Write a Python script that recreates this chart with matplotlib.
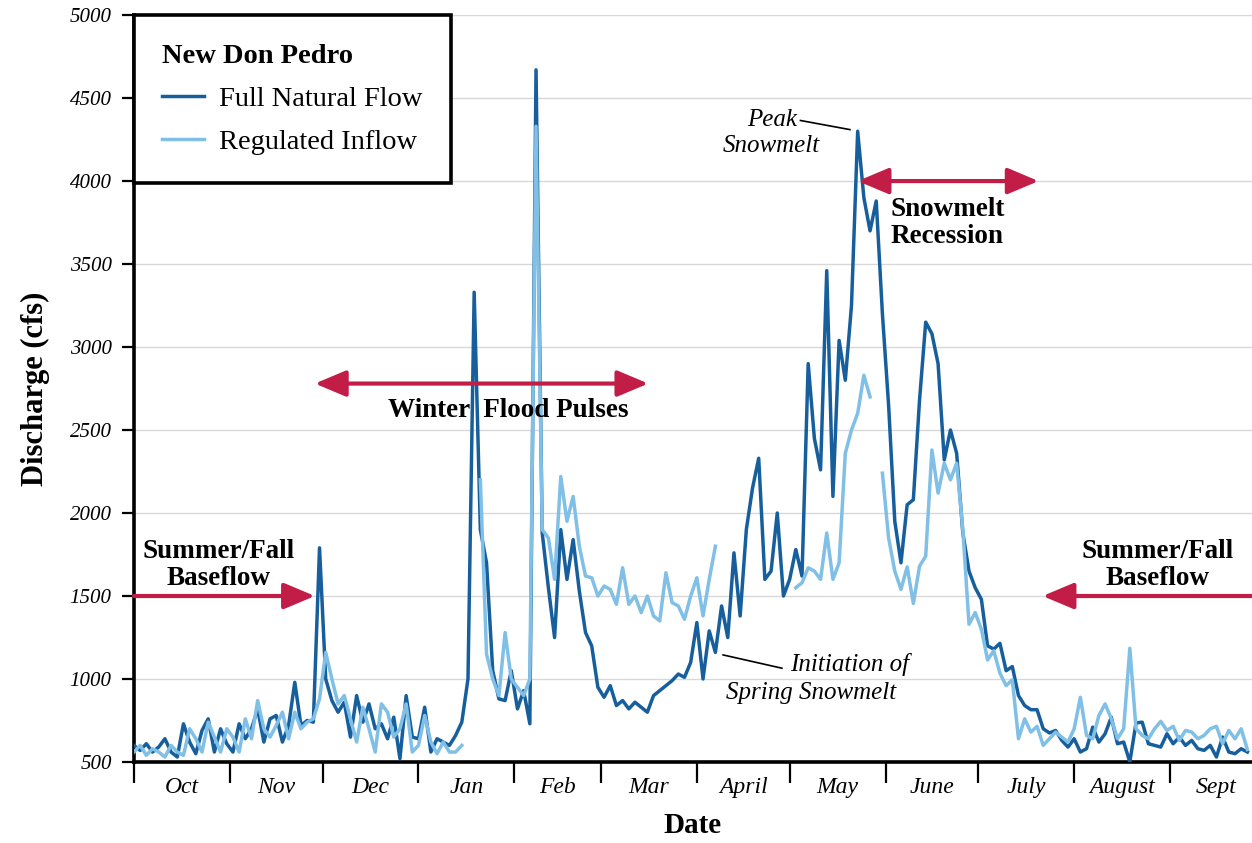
import matplotlib
matplotlib.use('Agg')
import matplotlib.pyplot as plt
import matplotlib.dates as mdates
import numpy as np
import pandas as pd

plt.rcParams['font.family'] = 'serif'
plt.rcParams['font.serif'] = ['Liberation Serif', 'DejaVu Serif']

# water year 2000-2001, one reading every second day (cfs)
start_date = '2000-10-01'
n_days = 181

full_natural_flow = [
    # Oct
    600, 570, 610, 560, 590, 640, 560, 530, 730, 620, 550, 690, 760, 560, 700, 610,
    # Nov
    560, 730, 640, 700, 820, 620, 760, 780, 620, 720, 980, 720, 750, 740, 1790,
    # Dec
    1000, 870, 800, 860, 650, 900, 740, 850, 700, 730, 640, 770, 520, 900, 650,
    # Jan
    640, 830, 560, 640, 620, 600, 660, 740, 1000, 3330, 1900, 1700, 1050, 880, 870, 1050,
    # Feb
    820, 930, 730, 4670, 1880, 1550, 1250, 1900, 1600, 1840, 1530, 1280, 1200, 950,
    # Mar
    890, 960, 840, 870, 820, 860, 830, 800, 900, 930, 960, 990, 1030, 1010, 1100,
    # Apr
    1340, 1000, 1290, 1160, 1440, 1250, 1760, 1380, 1900, 2150, 2330, 1600, 1650, 2000, 1500,
    # May
    1600, 1780, 1620, 2900, 2450, 2260, 3460, 2100, 3040, 2800, 3250, 4300, 3900, 3700, 3880, 3200,
    # Jun
    2650, 1950, 1700, 2050, 2080, 2680, 3150, 3080, 2900, 2320, 2500, 2360, 1880, 1650, 1550,
    # Jul
    1480, 1200, 1180, 1215, 1050, 1075, 900, 840, 815, 815, 700, 675, 690, 630, 590,
    # Aug
    640, 560, 580, 710, 620, 670, 770, 610, 620, 500, 735, 740, 610, 600, 590, 670,
    # Sep
    610, 650, 600, 630, 580, 570, 600, 530, 650, 560, 550, 580, 560,
]

nan = np.nan
regulated_inflow = [
    # Oct
    560, 600, 540, 580, 560, 530, 600, 560, 540, 700, 640, 560, 740, 650, 560, 700,
    # Nov
    650, 560, 760, 640, 870, 700, 650, 720, 800, 640, 800, 700, 740, 760, 880,
    # Dec
    1160, 1000, 850, 900, 760, 620, 830, 700, 560, 850, 800, 650, 700, 850, 560,
    # Jan
    600, 780, 620, 550, 620, 560, 560, 600, nan, nan, 2200, 1150, 1000, 900, 1280, 1000,
    # Feb
    950, 900, 1000, 4330, 1900, 1850, 1600, 2220, 1950, 2100, 1800, 1620, 1610, 1500,
    # Mar
    1560, 1540, 1450, 1670, 1450, 1500, 1400, 1500, 1380, 1350, 1640, 1460, 1440, 1360, 1500,
    # Apr
    1610, 1380, 1600, 1800, nan, nan, nan, nan, nan, nan, nan, nan, nan, nan, nan,
    # May
    nan, 1550, 1580, 1670, 1650, 1600, 1880, 1600, 1700, 2360, 2500, 2600, 2830, 2700, nan, 2240,
    # Jun
    1850, 1650, 1540, 1675, 1455, 1680, 1740, 2380, 2120, 2300, 2200, 2300, 1900, 1330, 1400,
    # Jul
    1300, 1115, 1170, 1035, 960, 995, 640, 760, 680, 715, 600, 640, 680, 650, 620,
    # Aug
    700, 890, 660, 640, 780, 850, 760, 640, 700, 1185, 700, 660, 640, 700, 745, 690,
    # Sep
    715, 630, 690, 680, 640, 660, 700, 715, 610, 690, 640, 700, 575,
]

month_names = ['Oct', 'Nov', 'Dec', 'Jan', 'Feb', 'Mar', 'April', 'May',
               'June', 'July', 'August', 'Sept']

dark_blue = '#175f9c'
light_blue = '#80bfe6'
crimson = '#c21d47'

dates = pd.date_range(start_date, periods=n_days, freq='2D')
t0 = mdates.date2num(pd.Timestamp(start_date))


def day(n):
    return t0 + n


def discharge_plot():
    fig = plt.figure(figsize=(12.52, 8.43), dpi=100)
    ax = fig.add_axes([0.107, 0.0961, 0.893, 0.886])

    ax.plot(dates, full_natural_flow, color=dark_blue, lw=2.5,
            label='Full Natural Flow', zorder=3)
    ax.plot(dates, regulated_inflow, color=light_blue, lw=2.5,
            label='Regulated Inflow', zorder=4)

    ax.set_ylim(500, 5000)
    ax.set_xlim(day(0), day(361.5))
    ax.set_yticks(np.arange(500, 5001, 500))
    ax.yaxis.grid(True, color='#d8d8d8', lw=1.0)
    ax.set_axisbelow(True)

    for side in ('top', 'right'):
        ax.spines[side].set_visible(False)
    for side in ('left', 'bottom'):
        ax.spines[side].set_linewidth(2.6)

    # month boundaries as major ticks, names centred between them
    month_starts = pd.date_range(start_date, periods=13, freq='MS')
    starts = mdates.date2num(month_starts)
    mids = (starts[:-1] + starts[1:]) / 2
    ax.set_xticks(starts[:-1])
    ax.set_xticklabels([])
    ax.set_xticks(mids, minor=True)
    ax.set_xticklabels(month_names, minor=True, style='italic', fontsize=17)
    ax.tick_params(axis='x', which='major', length=15, width=1.6, direction='out')
    ax.tick_params(axis='x', which='minor', length=0, pad=11)
    ax.tick_params(axis='y', length=9, width=1.6, pad=7)
    for lbl in ax.get_yticklabels():
        lbl.set_fontstyle('italic')
        lbl.set_fontsize(15)

    ax.set_ylabel('Discharge (cfs)', fontsize=22, fontweight='bold', labelpad=14)
    ax.set_xlabel('Date', fontsize=21, fontweight='bold', labelpad=10)

    leg = ax.legend(loc='upper left', bbox_to_anchor=(0, 1), borderaxespad=0,
                    title='New Don Pedro', alignment='left', fontsize=20.5,
                    title_fontproperties={'weight': 'bold', 'size': 20.5},
                    fancybox=False, edgecolor='black', framealpha=1,
                    handlelength=1.45, handletextpad=0.55, labelspacing=0.6,
                    borderpad=1.0)
    leg.get_frame().set_linewidth(2.6)
    leg.set_zorder(6)

    arrow = dict(arrowstyle='-|>,head_length=1.9,head_width=0.8', color=crimson,
                 lw=3, shrinkA=0, shrinkB=0)
    double = dict(arrowstyle='<|-|>,head_length=1.9,head_width=0.8', color=crimson,
                  lw=3, shrinkA=0, shrinkB=0)
    ax.annotate('', xy=(day(58.5), 1500), xytext=(day(0), 1500), arrowprops=arrow,
                annotation_clip=False, zorder=5)
    ax.annotate('', xy=(day(293.8), 1500), xytext=(day(362), 1500), arrowprops=arrow,
                annotation_clip=False, zorder=5)
    ax.annotate('', xy=(day(166.3), 2780), xytext=(day(58.5), 2780), arrowprops=double,
                zorder=5)
    ax.annotate('', xy=(day(292.5), 4000), xytext=(day(234), 4000), arrowprops=double,
                zorder=5)

    bold = dict(fontsize=19.5, fontweight='bold', ha='center', va='center',
                linespacing=1.1, zorder=6)
    ax.text(day(27.5), 1685, 'Summer/Fall\nBaseflow', **bold)
    ax.text(day(331), 1685, 'Summer/Fall\nBaseflow', **bold)
    ax.text(day(121), 2620, 'Winter  Flood Pulses', **bold)
    ax.text(day(263), 3745, 'Snowmelt\nRecession', **bold)

    note = dict(fontsize=18, fontstyle='italic', va='center', zorder=6)
    ax.text(day(214.5), 4370, 'Peak', ha='right', **note)
    ax.text(day(206), 4210, 'Snowmelt', ha='center', **note)
    ax.plot([day(215.5), day(231.5)], [4365, 4310], color='black', lw=1.2, zorder=6)

    ax.text(day(212), 1090, 'Initiation of', ha='left', **note)
    ax.text(day(191.5), 915, 'Spring Snowmelt', ha='left', **note)
    ax.plot([day(190.5), day(209.5)], [1145, 1065], color='black', lw=1.2, zorder=6)

    fig.savefig('out.png', dpi=100)
    plt.close(fig)


if __name__ == '__main__':
    discharge_plot()
